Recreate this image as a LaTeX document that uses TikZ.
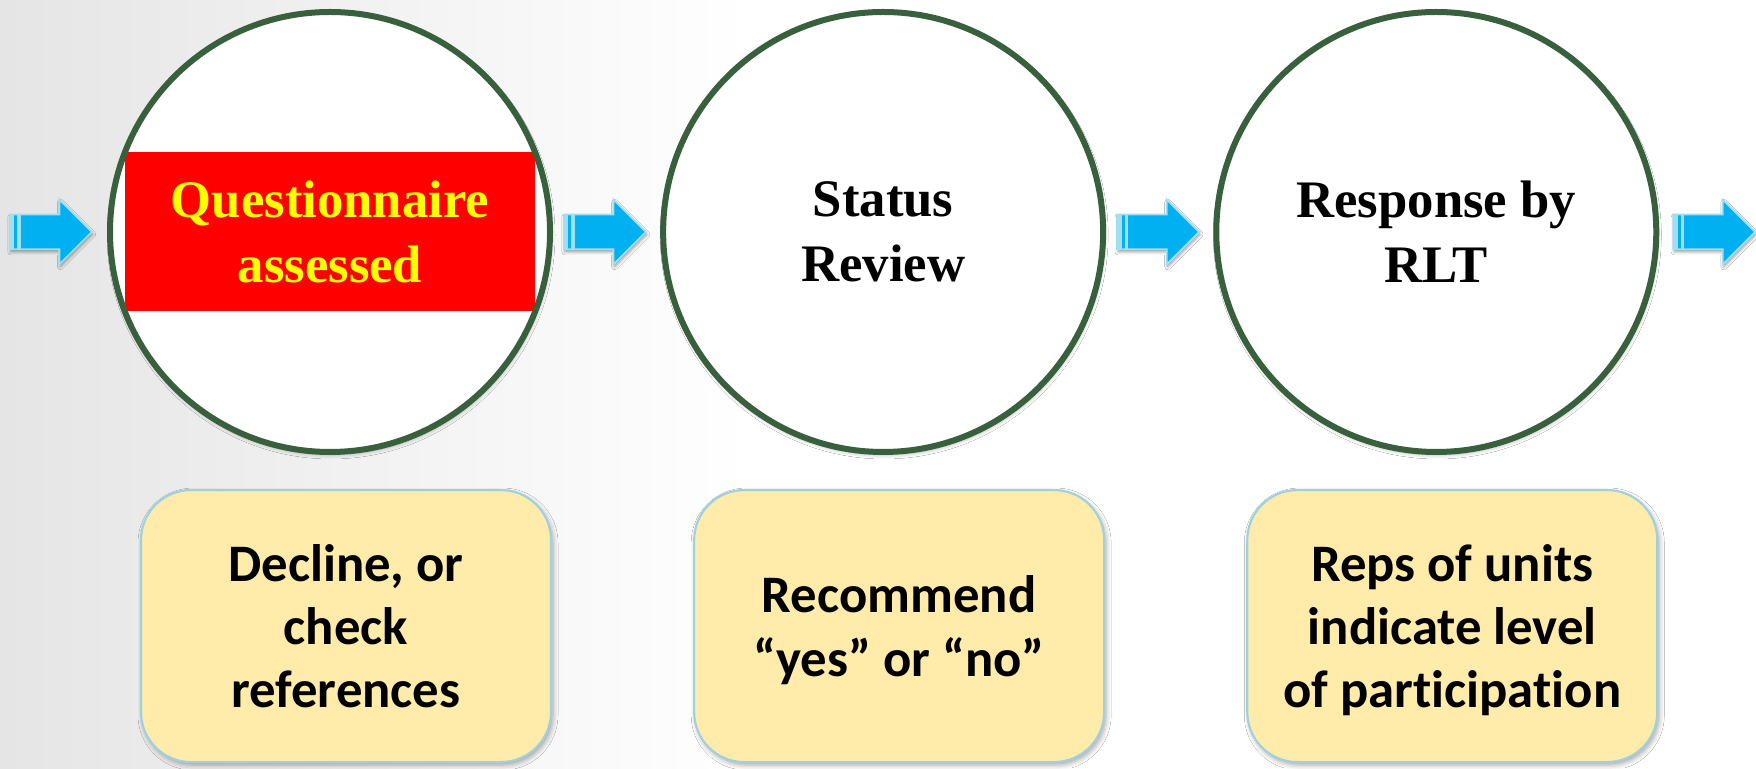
\documentclass[tikz,border=0pt]{standalone}
\usepackage{fontspec}
\setmainfont{Liberation Serif}
\newfontfamily\calibfont[Ligatures=NoCommon]{Carlito}
\usepackage{tikz}
\usetikzlibrary{
  shapes.arrows,
  positioning,
  shadows.blur
}
\definecolor{ringgreen}{RGB}{56, 96, 61}
\definecolor{arrowcyan}{RGB}{0, 176, 240}
\definecolor{arrowedge}{RGB}{160, 222, 240}
\definecolor{notefill}{RGB}{255, 235, 170}
\definecolor{noteedge}{RGB}{160, 208, 224}
\definecolor{hotred}{RGB}{255, 0, 0}
\definecolor{hotyellow}{RGB}{255, 255, 0}
\definecolor{bggray}{RGB}{229, 229, 229}
\tikzset{
  ring/.style = {
    circle, draw=ringgreen, line width=0.06cm,
    fill=white, minimum size=4.40cm, inner sep=0pt,
    align=center, font=\fontsize{15}{18.5}\selectfont\bfseries,
    blur shadow={shadow xshift=0.01cm, shadow yshift=-0.03cm,
                 shadow blur radius=0.04cm, shadow opacity=30}
  },
  redband/.style = {
    path picture={
      \fill[hotred]
        ([xshift=-2.05cm, yshift=-0.795cm]path picture bounding box.center)
        rectangle
        ([xshift=2.05cm, yshift=0.795cm]path picture bounding box.center);
    }
  },
  blockarrow/.style = {
    single arrow, draw=arrowedge, line width=0.5pt,
    fill=arrowcyan, minimum height=0.82cm,
    inner xsep=0pt, inner ysep=0.165cm,
    single arrow head extend=0.15cm,
    path picture={
      \fill[arrowedge] (path picture bounding box.south west)
        rectangle ([xshift=0.11cm]path picture bounding box.north west);
      \fill[arrowcyan] ([xshift=0.045cm]path picture bounding box.south west)
        rectangle ([xshift=0.075cm]path picture bounding box.north west);
    },
    blur shadow={shadow xshift=0.01cm, shadow yshift=-0.025cm,
                 shadow blur radius=0.03cm, shadow opacity=40}
  },
  note/.style = {
    rectangle, rounded corners=0.5cm,
    draw=noteedge, line width=0.6pt, fill=notefill,
    minimum width=4.1cm, minimum height=2.72cm,
    align=center, font=\calibfont\fontsize{15}{18}\selectfont\bfseries,
    text depth=0pt,
    blur shadow={shadow xshift=0.02cm, shadow yshift=-0.03cm,
                 shadow blur radius=0.05cm, shadow opacity=35}
  },
}

\begin{document}
\begin{tikzpicture}

  \useasboundingbox (0,0) rectangle (17.56,7.68);

  %% backdrop
  \fill[white] (0,0) rectangle (17.56,7.68);
  \shade[left color=bggray, right color=white] (0,0) rectangle (7.5,7.68);

  %% circles and arrows
  \node[ring, redband, text=hotyellow] (c1) at (3.30,5.36) {Questionnaire\\assessed};
  \node[blockarrow, left=0.14cm of c1]  (a1) {};
  \node[blockarrow, right=0.10cm of c1] (a2) {};
  \node[ring, right=0.13cm of a2]       (c2) {Status\\Review};
  \node[blockarrow, right=0.10cm of c2] (a3) {};
  \node[ring, right=0.13cm of a3]       (c3) {Response by\\RLT};
  \node[blockarrow, right=0.13cm of c3] (a4) {};

  %% notes
  \node[note, below=0.34cm of c1, xshift=0.16cm] (n1) {Decline, or\\check\\references};
  \node[note, below=0.34cm of c2, xshift=0.16cm] (n2) {Recommend\\“yes” or “no”};
  \node[note, below=0.34cm of c3, xshift=0.16cm] (n3) {Reps of units\\indicate level\\of participation};

\end{tikzpicture}
\end{document}
